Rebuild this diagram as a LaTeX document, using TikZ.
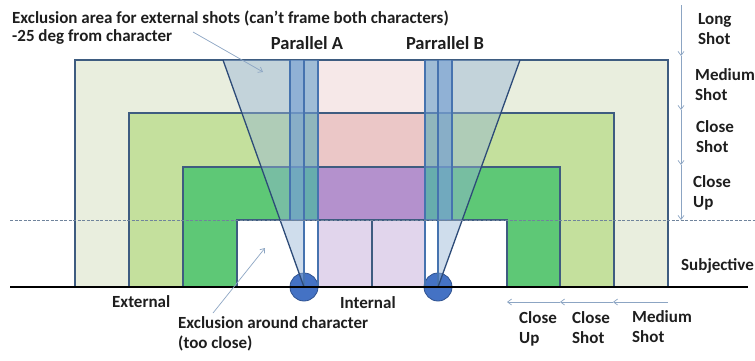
\documentclass[tikz,border=0pt]{standalone}
\usepackage{fontspec}
\setmainfont{Carlito}
\usetikzlibrary{arrows.meta}
\definecolor{beige}{RGB}{233,238,222}
\definecolor{lgreen}{RGB}{196,224,157}
\definecolor{dgreen}{RGB}{94,200,118}
\definecolor{edgec}{RGB}{62,92,128}
\definecolor{pinkA}{RGB}{246,232,232}
\definecolor{pinkB}{RGB}{235,199,199}
\definecolor{purp}{RGB}{180,145,205}
\definecolor{lav}{RGB}{225,213,236}
\definecolor{stripc}{RGB}{110,155,210}
\definecolor{stripe}{RGB}{70,115,175}
\definecolor{conec}{RGB}{150,180,215}
\definecolor{conee}{RGB}{45,75,120}
\definecolor{hintc}{RGB}{140,165,195}
\definecolor{charf}{RGB}{68,114,196}
\definecolor{chare}{RGB}{47,82,143}
\definecolor{txt}{RGB}{30,30,30}
\begin{document}
\begin{tikzpicture}[x=1pt,y=-1pt,
  zone/.style={draw=edgec, line width=1.3pt},
  lbl/.style={font=\bfseries\fontsize{17}{20}\selectfont, inner sep=0pt, align=left, anchor=north west, text=txt},
  title/.style={font=\bfseries\fontsize{18.5}{20}\selectfont, inner sep=0pt, anchor=base, text=txt},
  hint/.style={draw=hintc, line width=0.7pt, -{Straight Barb[length=4pt,width=6pt]}},
  cone/.style={fill=conec, fill opacity=0.45},
  stripfill/.style={fill=stripc, fill opacity=0.6},
  stripline/.style={draw=stripe, line width=1.3pt},
  coneline/.style={draw=conee, line width=1.3pt},
  charnode/.style={circle, minimum size=28pt, inner sep=0pt, fill=charf, draw=chare, line width=0.8pt}]
\useasboundingbox (0,0) rectangle (755,360);

% shot zones
\filldraw[zone, fill=beige] (75,60) rectangle (668,287);
\filldraw[zone, fill=lgreen] (129,113) rectangle (614,287);
\filldraw[zone, fill=dgreen] (183,167) rectangle (560,287);
\filldraw[zone, fill=white] (237,220) rectangle (507,287);

% internal area
\filldraw[zone, fill=pinkA] (318,60) rectangle (425,113);
\filldraw[zone, fill=pinkB] (318,113) rectangle (425,167);
\filldraw[zone, fill=purp] (318,167) rectangle (425,220);
\filldraw[zone, fill=lav] (318,220) rectangle (372,287);
\filldraw[zone, fill=lav] (372,220) rectangle (425,287);

% characters
\node[charnode] (charA) at (304,287) {};
\node[charnode] (charB) at (438,287) {};
\coordinate (coneAtop) at (223,60);
\coordinate (coneBtop) at (520,60);
\coordinate (axisA) at (304,60);
\coordinate (axisB) at (438,60);

% exclusion cones
\fill[cone] (charA.center) -- (coneAtop) -- (axisA) -- cycle;
\fill[cone] (charB.center) -- (coneBtop) -- (axisB) -- cycle;

% parallel strips
\fill[stripfill] (290,60) rectangle (318,220);
\fill[stripfill] (425,60) rectangle (452,220);
\draw[stripline] (290,60) -- (290,220);
\draw[stripline] (318,60) -- (318,287);
\draw[stripline] (425,60) -- (425,287);
\draw[stripline] (452,60) -- (452,220);
\draw[stripline] (axisA) -- (charA.center);
\draw[stripline] (axisB) -- (charB.center);

\draw[coneline] (charA.center) -- (coneAtop);
\draw[coneline] (charB.center) -- (coneBtop);

% subjective boundary
\draw[draw=hintc!80!black, line width=0.6pt, dash pattern=on 3pt off 1.5pt] (10,220) -- (755,220);

% ground
\draw[line width=2.6pt, black] (10,287) -- (748,287);

% titles
\node[title] (parA) at (307,49) {Parallel A};
\node[title] (parB) at (445,49) {Parrallel B};

% top-left note
\node[lbl, font=\bfseries\fontsize{17}{18}\selectfont] (note) at (12,11) {Exclusion area for external shots (can't frame both characters)\\-25 deg from character};
\coordinate (noteS) at (193,32);
\coordinate (noteE) at (263,72);
\draw[hint] (noteS) -- (noteE);

% right scale
\coordinate (r0) at (681,5);
\coordinate (r1) at (681,56);
\coordinate (r2) at (681,110);
\coordinate (r3) at (681,165);
\coordinate (r4) at (681,220);
\draw[hint] (r0) -- (r1);
\draw[hint] (r1) -- (r2);
\draw[hint] (r2) -- (r3);
\draw[hint] (r3) -- (r4);
\node[lbl] (longshot) at (698,13) {Long\\Shot};
\node[lbl] (medshot) at (695,68) {Medium\\Shot};
\node[lbl] (closeshot) at (696,120) {Close\\Shot};
\node[lbl] (closeup) at (693,175) {Close\\Up};
\node[lbl] (subj) at (681,258) {Subjective};

% bottom labels
\node[lbl] (ext) at (112,295) {External};
\node[lbl] (int) at (340,296) {Internal};
\node[lbl] (excl) at (178,316) {Exclusion around character\\(too close)};
\coordinate (exclS) at (213,313);
\coordinate (exclE) at (265,248);
\draw[hint] (exclS) -- (exclE);

\coordinate (b0) at (668,302);
\coordinate (b1) at (613,302);
\coordinate (b2) at (560,302);
\coordinate (b3) at (507,302);
\draw[hint] (b0) -- (b1);
\draw[hint] (b1) -- (b2);
\draw[hint] (b2) -- (b3);
\node[lbl] (bcu) at (519,311) {Close\\Up};
\node[lbl] (bcs) at (572,311) {Close\\Shot};
\node[lbl] (bms) at (632,310) {Medium\\Shot};
\end{tikzpicture}
\end{document}
